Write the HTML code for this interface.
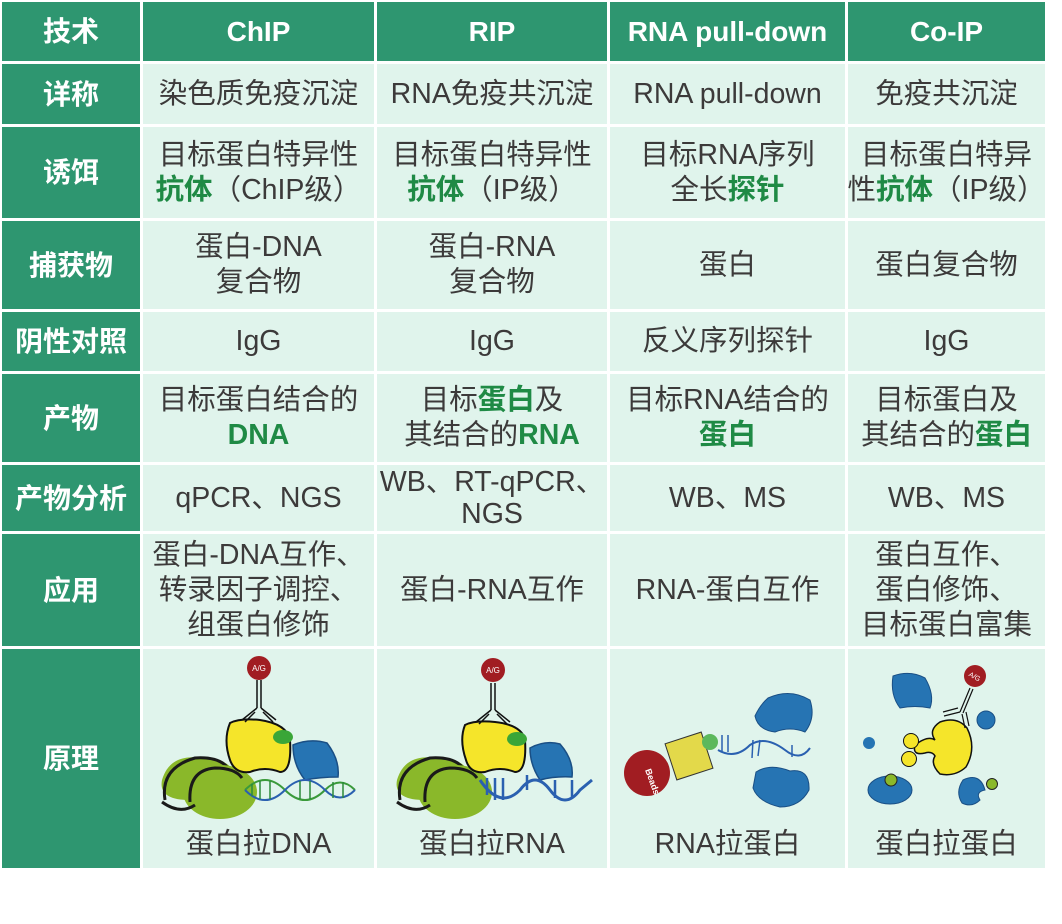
<!DOCTYPE html>
<html><head><meta charset="utf-8"><style>
body{margin:0;width:1062px;height:924px;background:#fff;position:relative;overflow:hidden;font-family:"Liberation Sans","Noto Sans CJK SC",sans-serif;}
.c{position:absolute;display:flex;align-items:center;justify-content:center;text-align:center;background:#e0f4ec;color:#3c3a3a;font-size:28.5px;line-height:35px;white-space:nowrap;}
.h{background:#2e9670;color:#fff;font-weight:bold;font-size:28px;}
.g{color:#1f8a45;font-weight:bold;}
svg{position:absolute;}
</style></head><body>
<div class="c h" style="left:2px;top:2px;width:138px;height:59px">技术</div>
<div class="c h" style="left:143px;top:2px;width:231px;height:59px">ChIP</div>
<div class="c h" style="left:377px;top:2px;width:230px;height:59px">RIP</div>
<div class="c h" style="left:610px;top:2px;width:235px;height:59px">RNA pull-down</div>
<div class="c h" style="left:848px;top:2px;width:197px;height:59px">Co-IP</div>
<div class="c h" style="left:2px;top:64px;width:138px;height:60px">详称</div>
<div class="c" style="left:143px;top:64px;width:231px;height:60px">染色质免疫沉淀</div>
<div class="c" style="left:377px;top:64px;width:230px;height:60px">RNA免疫共沉淀</div>
<div class="c" style="left:610px;top:64px;width:235px;height:60px">RNA pull-down</div>
<div class="c" style="left:848px;top:64px;width:197px;height:60px">免疫共沉淀</div>
<div class="c h" style="left:2px;top:127px;width:138px;height:91px">诱饵</div>
<div class="c" style="left:143px;top:127px;width:231px;height:91px"><div>目标蛋白特异性<br><span class="g">抗体</span>（ChIP级）</div></div>
<div class="c" style="left:377px;top:127px;width:230px;height:91px"><div>目标蛋白特异性<br><span class="g">抗体</span>（IP级）</div></div>
<div class="c" style="left:610px;top:127px;width:235px;height:91px"><div>目标RNA序列<br>全长<span class="g">探针</span></div></div>
<div class="c" style="left:848px;top:127px;width:197px;height:91px"><div>目标蛋白特异<br>性<span class="g">抗体</span>（IP级）</div></div>
<div class="c h" style="left:2px;top:221px;width:138px;height:88px">捕获物</div>
<div class="c" style="left:143px;top:221px;width:231px;height:88px"><div>蛋白-DNA<br>复合物</div></div>
<div class="c" style="left:377px;top:221px;width:230px;height:88px"><div>蛋白-RNA<br>复合物</div></div>
<div class="c" style="left:610px;top:221px;width:235px;height:88px">蛋白</div>
<div class="c" style="left:848px;top:221px;width:197px;height:88px">蛋白复合物</div>
<div class="c h" style="left:2px;top:312px;width:138px;height:59px">阴性对照</div>
<div class="c" style="left:143px;top:312px;width:231px;height:59px">IgG</div>
<div class="c" style="left:377px;top:312px;width:230px;height:59px">IgG</div>
<div class="c" style="left:610px;top:312px;width:235px;height:59px">反义序列探针</div>
<div class="c" style="left:848px;top:312px;width:197px;height:59px">IgG</div>
<div class="c h" style="left:2px;top:374px;width:138px;height:88px">产物</div>
<div class="c" style="left:143px;top:374px;width:231px;height:88px"><div>目标蛋白结合的<br><span class="g">DNA</span></div></div>
<div class="c" style="left:377px;top:374px;width:230px;height:88px"><div>目标<span class="g">蛋白</span>及<br>其结合的<span class="g">RNA</span></div></div>
<div class="c" style="left:610px;top:374px;width:235px;height:88px"><div>目标RNA结合的<br><span class="g">蛋白</span></div></div>
<div class="c" style="left:848px;top:374px;width:197px;height:88px"><div>目标蛋白及<br>其结合的<span class="g">蛋白</span></div></div>
<div class="c h" style="left:2px;top:465px;width:138px;height:66px">产物分析</div>
<div class="c" style="left:143px;top:465px;width:231px;height:66px">qPCR、NGS</div>
<div class="c" style="left:377px;top:465px;width:230px;height:66px"><div style="line-height:32px">WB、RT-qPCR、<br>NGS</div></div>
<div class="c" style="left:610px;top:465px;width:235px;height:66px">WB、MS</div>
<div class="c" style="left:848px;top:465px;width:197px;height:66px">WB、MS</div>
<div class="c h" style="left:2px;top:534px;width:138px;height:112px">应用</div>
<div class="c" style="left:143px;top:534px;width:231px;height:112px"><div>蛋白-DNA互作、<br>转录因子调控、<br>组蛋白修饰</div></div>
<div class="c" style="left:377px;top:534px;width:230px;height:112px">蛋白-RNA互作</div>
<div class="c" style="left:610px;top:534px;width:235px;height:112px">RNA-蛋白互作</div>
<div class="c" style="left:848px;top:534px;width:197px;height:112px"><div>蛋白互作、<br>蛋白修饰、<br>目标蛋白富集</div></div>
<div class="c h" style="left:2px;top:649px;width:138px;height:219px">原理</div>
<div class="c" style="left:143px;top:649px;width:231px;height:219px;align-items:flex-end"><div style="margin-bottom:6px">蛋白拉DNA</div></div>
<div class="c" style="left:377px;top:649px;width:230px;height:219px;align-items:flex-end"><div style="margin-bottom:6px">蛋白拉RNA</div></div>
<div class="c" style="left:610px;top:649px;width:235px;height:219px;align-items:flex-end"><div style="margin-bottom:6px">RNA拉蛋白</div></div>
<div class="c" style="left:848px;top:649px;width:197px;height:219px;align-items:flex-end"><div style="margin-bottom:6px">蛋白拉蛋白</div></div>

<svg style="left:143px;top:649px" width="231" height="180" viewBox="143 649 231 180">
<path d="M202 758 Q170 753 162 780 Q158 800 190 800 Q225 805 236 790 Q240 758 202 758Z" fill="#8ab82a"/>
<path d="M165 800 Q160 768 195 758 Q225 756 232 775" fill="none" stroke="#1a1a1a" stroke-width="3"/>
<ellipse cx="220" cy="792" rx="37" ry="27" fill="#8ab82a"/>
<path d="M190 802 Q188 770 215 768 Q235 768 242 778" fill="none" stroke="#1a1a1a" stroke-width="3"/>
<path d="M162 802 Q180 815 195 805" fill="none" stroke="#1a1a1a" stroke-width="3"/>
<path d="M230 723 Q240 718 260 720 Q287 724 290 740 Q292 772 280 772 Q265 766 250 772 Q235 774 230 760 Q223 740 230 723Z" fill="#f5e52a" stroke="#111" stroke-width="2"/>
<ellipse cx="283" cy="737" rx="10" ry="7" fill="#3aa638"/>
<path d="M293 745 Q310 738 327 743 Q340 760 338 777 Q320 777 305 780 Q293 765 293 745Z" fill="#2674b3" stroke="#1a4f85" stroke-width="1.5"/>
<path d="M245 790 Q265 770 285 790 Q305 810 325 790 Q340 775 355 790" fill="none" stroke="#3a9a3a" stroke-width="2"/>
<path d="M245 790 Q265 810 285 790 Q305 770 325 790 Q340 805 355 790" fill="none" stroke="#2a60b0" stroke-width="2"/>
<g stroke="#2a8a3a" stroke-width="1.5"><line x1="252" y1="784" x2="252" y2="796"/><line x1="260" y1="781" x2="260" y2="799"/><line x1="270" y1="781" x2="270" y2="799"/><line x1="300" y1="781" x2="300" y2="799"/><line x1="310" y1="781" x2="310" y2="799"/><line x1="333" y1="782" x2="333" y2="798"/><line x1="343" y1="782" x2="343" y2="798"/></g>
<line x1="257" y1="680" x2="257" y2="708" stroke="#111" stroke-width="1.5"/><line x1="261" y1="680" x2="261" y2="708" stroke="#111" stroke-width="1.5"/>
<path d="M257 708 L242 720 M261 708 L276 720 M255 712 L245 722 M263 712 L273 722" stroke="#111" stroke-width="1.5"/>
<circle cx="259" cy="668" r="12" fill="#a11d22"/><text x="259" y="671" font-size="8" fill="#fff" text-anchor="middle">A/G</text>
</svg>
<svg style="left:377px;top:649px" width="230" height="180" viewBox="377 649 230 180">
<path d="M437 758 Q405 753 397 780 Q393 800 425 800 Q460 805 471 790 Q475 758 437 758Z" fill="#8ab82a"/>
<path d="M400 800 Q395 768 430 758 Q460 756 467 775" fill="none" stroke="#1a1a1a" stroke-width="3"/>
<ellipse cx="455" cy="792" rx="37" ry="27" fill="#8ab82a"/>
<path d="M425 802 Q423 770 450 768 Q470 768 477 778" fill="none" stroke="#1a1a1a" stroke-width="3"/>
<path d="M397 802 Q415 815 430 805" fill="none" stroke="#1a1a1a" stroke-width="3"/>
<path d="M465 725 Q475 720 495 722 Q522 725 525 740 Q527 772 515 772 Q500 766 485 772 Q470 774 466 760 Q459 740 465 725Z" fill="#f5e52a" stroke="#111" stroke-width="2"/>
<ellipse cx="517" cy="739" rx="10" ry="7" fill="#3aa638"/>
<path d="M530 748 Q545 740 560 744 Q574 760 572 777 Q555 776 540 780 Q530 765 530 748Z" fill="#2674b3" stroke="#1a4f85" stroke-width="1.5"/>
<path d="M480 780 Q500 810 520 790 Q535 770 550 790 Q565 810 580 790 L592 780" fill="none" stroke="#2a60b0" stroke-width="3"/>
<g stroke="#2a60b0" stroke-width="2.5"><line x1="487" y1="778" x2="487" y2="795"/><line x1="495" y1="778" x2="495" y2="800"/><line x1="503" y1="778" x2="503" y2="800"/><line x1="527" y1="775" x2="527" y2="790"/><line x1="555" y1="780" x2="555" y2="798"/><line x1="572" y1="780" x2="572" y2="797"/></g>
<line x1="491" y1="683" x2="491" y2="710" stroke="#111" stroke-width="1.5"/><line x1="495" y1="683" x2="495" y2="710" stroke="#111" stroke-width="1.5"/>
<path d="M491 710 L476 722 M495 710 L510 722 M489 714 L479 724 M497 714 L507 724" stroke="#111" stroke-width="1.5"/>
<circle cx="493" cy="670" r="12" fill="#a11d22"/><text x="493" y="673" font-size="8" fill="#fff" text-anchor="middle">A/G</text>
</svg>
<svg style="left:610px;top:649px" width="235" height="180" viewBox="610 649 235 180">
<path d="M768 698 Q790 688 810 700 Q816 718 805 732 Q790 726 775 732 Q758 730 755 716 Q760 705 768 698Z" fill="#2674b3" stroke="#1a4f85" stroke-width="1"/>
<path d="M756 772 Q770 763 790 771 Q810 768 809 790 Q800 807 780 807 Q758 802 753 788Z" fill="#2674b3" stroke="#1a4f85" stroke-width="1"/>
<circle cx="647" cy="773" r="23" fill="#a11d22"/>
<text x="645" y="770" font-size="9" font-weight="bold" fill="#fff" transform="rotate(70 645 770)">Beads</text>
<rect x="670" y="737" width="38" height="38" fill="#e3d94a" stroke="#333" stroke-width="1" transform="rotate(-18 689 756)"/>
<circle cx="710" cy="742" r="8" fill="#5cb85c"/>
<path d="M718 750 Q735 760 750 745 Q765 735 785 750 Q800 762 810 748" fill="none" stroke="#2a60b0" stroke-width="2"/>
<g stroke="#2a60b0" stroke-width="1.5"><line x1="722" y1="735" x2="722" y2="752"/><line x1="728" y1="735" x2="728" y2="752"/><line x1="753" y1="740" x2="752" y2="758"/><line x1="760" y1="740" x2="758" y2="756"/><line x1="792" y1="745" x2="792" y2="757"/></g>
</svg>
<svg style="left:848px;top:649px" width="197" height="180" viewBox="848 649 197 180">
<path d="M893 676 Q910 670 925 678 Q935 695 930 708 Q915 705 900 708 Q890 695 893 676Z" fill="#2674b3" stroke="#1a4f85" stroke-width="1"/>
<circle cx="986" cy="720" r="9" fill="#2674b3" stroke="#1a4f85"/>
<circle cx="869" cy="743" r="6" fill="#2674b3"/>
<ellipse cx="890" cy="790" rx="22" ry="14" fill="#2674b3" stroke="#1a4f85"/>
<path d="M963 780 Q980 772 985 790 Q975 792 980 800 Q972 808 962 803 Q955 792 963 780Z" fill="#2674b3" stroke="#1a4f85"/>
<circle cx="891" cy="780" r="6" fill="#8ab82a" stroke="#222"/>
<circle cx="992" cy="784" r="5.5" fill="#8ab82a" stroke="#222"/>
<path d="M940 722 Q957 716 967 728 Q977 748 966 767 Q955 777 940 774 Q930 764 935 756 Q932 751 925 753 Q912 756 915 745 Q928 735 935 740 Q928 730 940 722Z" fill="#f5e52a" stroke="#111" stroke-width="1.5"/>
<circle cx="911" cy="741" r="7.5" fill="#f5e52a" stroke="#111"/>
<circle cx="909" cy="759" r="7.5" fill="#f5e52a" stroke="#111"/>
<path d="M960 712 L970 688 M963 713 L973 689" stroke="#111" stroke-width="1.2"/>
<path d="M960 712 L944 716 M958 708 L943 712 M962 714 L965 728 M966 712 L969 726" stroke="#111" stroke-width="1.2"/>
<circle cx="975" cy="676" r="11" fill="#a11d22"/><text x="975" y="679" font-size="7" fill="#fff" text-anchor="middle" transform="rotate(30 975 676)">A/G</text>
</svg>
</body></html>
